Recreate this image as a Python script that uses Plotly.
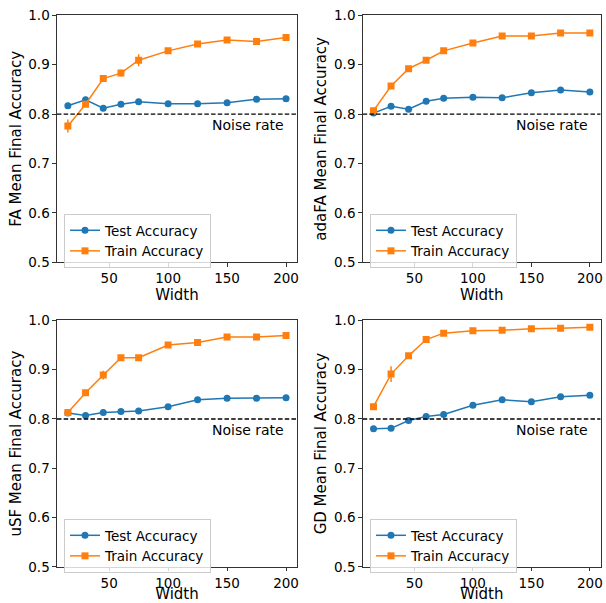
import plotly.graph_objects as go
from plotly.subplots import make_subplots

# Network widths used in the sweep
widths = [15, 30, 45, 60, 75, 100, 125, 150, 175, 200]

# Mean final accuracies (and std errors) per training method
fa_test = [0.817, 0.829, 0.812, 0.820, 0.825, 0.821, 0.821, 0.823, 0.830, 0.831]
fa_test_err = [0.006, 0.006, 0.003, 0.003, 0.005, 0.003, 0.002, 0.002, 0.002, 0.002]
fa_train = [0.776, 0.820, 0.872, 0.883, 0.909, 0.928, 0.942, 0.950, 0.947, 0.955]
fa_train_err = [0.013, 0.004, 0.005, 0.007, 0.012, 0.003, 0.003, 0.003, 0.003, 0.003]

adafa_test = [0.802, 0.816, 0.810, 0.826, 0.832, 0.834, 0.833, 0.843, 0.849, 0.845]
adafa_test_err = [0.003, 0.003, 0.003, 0.003, 0.003, 0.002, 0.002, 0.002, 0.002, 0.002]
adafa_train = [0.807, 0.857, 0.892, 0.909, 0.928, 0.944, 0.958, 0.958, 0.964, 0.964]
adafa_train_err = [0.003, 0.004, 0.003, 0.003, 0.003, 0.003, 0.002, 0.002, 0.002, 0.002]

usf_test = [0.812, 0.807, 0.813, 0.815, 0.816, 0.825, 0.839, 0.842, 0.842, 0.843]
usf_test_err = [0.003, 0.004, 0.003, 0.002, 0.002, 0.002, 0.002, 0.002, 0.002, 0.002]
usf_train = [0.813, 0.853, 0.889, 0.924, 0.924, 0.950, 0.955, 0.966, 0.966, 0.969]
usf_train_err = [0.006, 0.006, 0.009, 0.004, 0.004, 0.003, 0.003, 0.002, 0.002, 0.002]

gd_test = [0.780, 0.781, 0.797, 0.805, 0.809, 0.828, 0.839, 0.835, 0.845, 0.848]
gd_test_err = [0.005, 0.005, 0.003, 0.003, 0.003, 0.002, 0.002, 0.002, 0.002, 0.002]
gd_train = [0.825, 0.891, 0.928, 0.961, 0.974, 0.979, 0.980, 0.983, 0.984, 0.986]
gd_train_err = [0.006, 0.016, 0.004, 0.003, 0.002, 0.002, 0.002, 0.002, 0.002, 0.002]

methods = ["FA", "adaFA", "uSF", "GD"]
test_series = [(fa_test, fa_test_err), (adafa_test, adafa_test_err),
               (usf_test, usf_test_err), (gd_test, gd_test_err)]
train_series = [(fa_train, fa_train_err), (adafa_train, adafa_train_err),
                (usf_train, usf_train_err), (gd_train, gd_train_err)]

noise_rate = 0.8
y_ticks = [0.5, 0.6, 0.7, 0.8, 0.9, 1.0]
x_ticks = [50, 100, 150, 200]
x_range = [5.75, 209.25]

BLUE = "#1f77b4"
ORANGE = "#ff7f0e"
FONT = "DejaVu Sans"
TICK_SIZE = 13.5
LABEL_SIZE = 15

fig = make_subplots(rows=2, cols=2)

# Panel geometry in paper coordinates (plot area is 606 x 573 above a 30px bottom margin)
x_domains = [[0.094, 0.490], [0.5985, 0.9912]]
y_domains = [[0.5422, 0.9733], [0.0105, 0.4410]]
legend_pos = {(0, 0): (0.1056, 0.6265), (0, 1): (0.6105, 0.6265),
              (1, 0): (0.1056, 0.0942), (1, 1): (0.6105, 0.0942)}

for i, name in enumerate(methods):
    r, c = divmod(i, 2)
    leg = "legend" if i == 0 else f"legend{i + 1}"
    t_vals, t_err = test_series[i]
    tr_vals, tr_err = train_series[i]
    fig.add_trace(go.Scatter(
        x=widths, y=t_vals, mode="lines+markers", name="Test Accuracy",
        line=dict(color=BLUE, width=1.5),
        marker=dict(symbol="circle", size=7, color=BLUE),
        error_y=dict(type="data", array=t_err, color=BLUE, thickness=1.5, width=0),
        legend=leg,
    ), row=r + 1, col=c + 1)
    fig.add_trace(go.Scatter(
        x=widths, y=tr_vals, mode="lines+markers", name="Train Accuracy",
        line=dict(color=ORANGE, width=1.5),
        marker=dict(symbol="square", size=7, color=ORANGE),
        error_y=dict(type="data", array=tr_err, color=ORANGE, thickness=1.5, width=0),
        legend=leg,
    ), row=r + 1, col=c + 1)

    # Dashed noise-rate reference line
    fig.add_trace(go.Scatter(
        x=x_range, y=[noise_rate, noise_rate], mode="lines",
        line=dict(color="black", width=1.4, dash="4.5px,2.2px"),
        showlegend=False, hoverinfo="skip",
    ), row=r + 1, col=c + 1)

    axis_suffix = "" if i == 0 else str(i + 1)
    fig.add_annotation(
        x=200, y=noise_rate - 0.023, xref=f"x{axis_suffix}", yref=f"y{axis_suffix}",
        text="Noise rate", showarrow=False, xanchor="right", yanchor="middle",
        font=dict(family=FONT, size=14, color="black"),
    )

    fig.update_xaxes(
        domain=x_domains[c], range=x_range, tickvals=x_ticks,
        title=dict(text="Width", font=dict(family=FONT, size=LABEL_SIZE, color="black"),
                   standoff=0),
        row=r + 1, col=c + 1,
    )
    fig.update_yaxes(
        domain=y_domains[r], range=[0.5, 1.0], tickvals=y_ticks, tickformat=".1f",
        title=dict(text=f"{name} Mean Final Accuracy",
                   font=dict(family=FONT, size=LABEL_SIZE, color="black"), standoff=3),
        row=r + 1, col=c + 1,
    )

    lx, ly = legend_pos[(r, c)]
    fig.update_layout({leg: dict(
        x=lx, y=ly, xanchor="left", yanchor="top",
        bgcolor="rgba(255,255,255,0.8)", bordercolor="#cccccc", borderwidth=1,
        font=dict(family=FONT, size=13.5, color="black"),
        tracegroupgap=0, itemwidth=30,
    )})

axis_style = dict(showline=True, linecolor="#333333", linewidth=1, mirror=True,
                  ticks="outside", ticklen=3.5, tickcolor="#333333", showgrid=False,
                  zeroline=False, automargin=False, ticklabeloverflow="allow",
                  tickfont=dict(family=FONT, size=TICK_SIZE, color="black"))
fig.update_xaxes(**axis_style)
fig.update_yaxes(**axis_style)

fig.update_layout(
    width=606, height=603,
    margin=dict(l=0, r=0, t=0, b=30, autoexpand=False),
    plot_bgcolor="white", paper_bgcolor="white",
    font=dict(family=FONT, color="black"),
)

fig.write_html("out.html")
